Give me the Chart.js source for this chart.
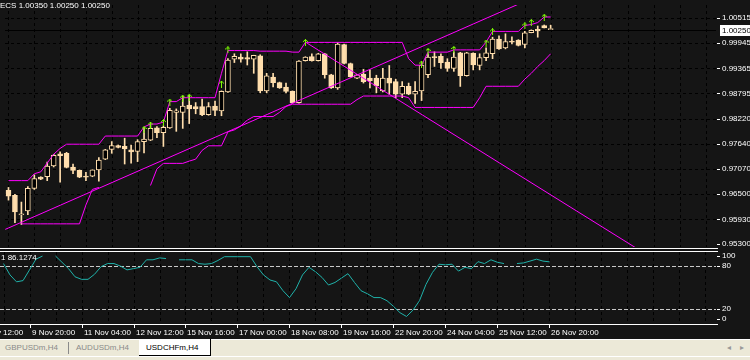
<!DOCTYPE html>
<html>
<head>
<meta charset="utf-8">
<title>USDCHFm,H4</title>
<script src="https://cdn.jsdelivr.net/npm/chart.js@4.4.1/dist/chart.umd.min.js"></script>
<style>
html,body{margin:0;padding:0;background:#151515;overflow:hidden;}
#wrap{position:relative;width:750px;height:360px;overflow:hidden;background:#151515;font-family:"Liberation Sans",Arial,sans-serif;}
.a{position:absolute;}
canvas{display:block;}
.txt{color:#fff;font-size:8px;line-height:8px;white-space:nowrap;}
.tab{font-size:8px;line-height:8px;white-space:nowrap;}
</style>
</head>
<body>
<div id="wrap">
  <canvas id="main" class="a" width="750" height="252" style="left:0;top:0"></canvas>
  <canvas id="osc" class="a" width="750" height="89" style="left:0;top:251px"></canvas>
  <div class="a" style="left:0;top:248px;width:718px;height:1px;background:#fff"></div>
  <div class="a" style="left:0;top:251px;width:718px;height:1px;background:#fff"></div>
  <div class="a" style="left:0;top:324px;width:718px;height:1px;background:#fff"></div>
  <div class="a txt" style="left:0;top:2px">ECS 1.00350 1.00250 1.00250</div>
  <div class="a txt" style="left:1px;top:254px">1 86.1274</div>
  <div class="a" style="left:0;top:339px;width:750px;height:21px;background:#ECE9D8;border-top:1px solid #fff;box-sizing:border-box"></div>
  <div class="a" style="left:0;top:356px;width:750px;height:1px;background:#fff"></div>
  <div class="a tab" style="left:5px;top:344px;color:#8a8a8a">GBPUSDm,H4</div>
  <div class="a" style="left:68px;top:342px;width:1px;height:12px;background:#8a8a8a"></div>
  <div class="a tab" style="left:76px;top:344px;color:#8a8a8a">AUDUSDm,H4</div>
  <div class="a" style="left:139px;top:339px;width:72px;height:17px;background:#fff;border-right:1px solid #000;border-bottom:1px solid #000;box-sizing:border-box"></div>
  <div class="a tab" style="left:146px;top:344px;color:#000">USDCHFm,H4</div>
  <div class="a tab" style="left:727px;top:344px;color:#999">&#9666;</div>
  <div class="a tab" style="left:740px;top:344px;color:#999">&#9656;</div>
</div>
<script>
// ---------------- data ----------------
const openPrices = [0.96589,0.96478,0.96034,0.96123,0.96634,0.96889,0.96900,0.97144,0.97422,0.97433,
0.97122,0.97044,0.96911,0.96911,0.97055,0.97300,0.97522,0.97611,0.97589,0.97511,
0.97478,0.97700,0.97733,0.98011,0.97900,0.98011,0.98366,0.98366,0.98532,0.98499,
0.98499,0.98310,0.98510,0.98399,0.98832,0.99576,0.99621,0.99610,0.99576,0.99654,
0.98854,0.99166,0.99043,0.98943,0.98843,0.98588,0.99543,0.99632,0.99543,0.99699,
0.99221,0.98921,0.99909,0.99477,0.99143,0.99232,0.99143,0.99143,0.98854,0.99143,
0.99065,0.98777,0.98955,0.98777,0.98854,0.99221,0.99632,0.99643,0.99510,0.99365,
0.99721,0.99199,0.99710,0.99432,0.99610,0.99699,1.00032,0.99832,0.99987,1.00009,
0.99909,1.00180,1.00254,1.00343,1.00250];
const highPrices = [0.96656,0.96500,0.96323,0.96678,0.96944,0.96900,0.97233,0.97411,0.97466,0.97455,
0.97189,0.97055,0.97000,0.97055,0.97333,0.97522,0.97700,0.97622,0.97777,0.97622,
0.97744,0.98000,0.98099,0.98044,0.98055,0.98455,0.98444,0.98733,0.98755,0.98588,
0.98666,0.98588,0.98621,0.98854,0.99587,0.99699,0.99699,0.99743,0.99665,0.99676,
0.99254,0.99254,0.99054,0.99032,0.98854,0.99543,0.99632,0.99699,0.99710,0.99710,
0.99232,0.99954,0.99921,0.99488,0.99232,0.99343,0.99332,0.99210,0.99365,0.99432,
0.99121,0.99065,0.99032,0.99065,0.99477,0.99699,0.99743,0.99699,0.99587,0.99743,
0.99732,0.99732,0.99721,0.99699,0.99832,1.00076,1.00109,1.00154,1.00087,1.00020,
1.00209,1.00243,1.00331,1.00354,1.00350];
const lowPrices = [0.96367,0.95856,0.95812,0.96034,0.96611,0.96833,0.96811,0.97122,0.96778,0.97100,
0.96967,0.96878,0.96811,0.96900,0.96800,0.97289,0.97433,0.97555,0.97189,0.97211,
0.97244,0.97444,0.97722,0.97789,0.97589,0.98000,0.97933,0.98000,0.98110,0.98333,
0.98288,0.98299,0.98288,0.98288,0.98821,0.99499,0.99510,0.99443,0.99254,0.98810,
0.98810,0.98943,0.98910,0.98810,0.98577,0.98577,0.99532,0.99532,0.99532,0.99143,
0.98910,0.98888,0.99465,0.99166,0.99132,0.99032,0.98921,0.98810,0.98832,0.98777,
0.98699,0.98699,0.98766,0.98566,0.98633,0.99154,0.99410,0.99365,0.99299,0.99299,
0.98955,0.99188,0.99332,0.99332,0.99543,0.99587,0.99798,0.99810,0.99921,0.99876,
0.99832,1.00176,1.00076,1.00287,1.00250];
const closePrices = [0.96456,0.96101,0.96056,0.96634,0.96856,0.96845,0.97144,0.97389,0.97378,0.97111,
0.97044,0.96889,0.96889,0.97055,0.97278,0.97511,0.97611,0.97566,0.97533,0.97466,
0.97700,0.97755,0.98000,0.97900,0.98022,0.98410,0.98399,0.98510,0.98444,0.98444,
0.98310,0.98499,0.98410,0.98843,0.99554,0.99643,0.99576,0.99576,0.99661,0.98854,
0.99199,0.99043,0.98921,0.98843,0.98588,0.99532,0.99621,0.99543,0.99699,0.99221,
0.98921,0.99921,0.99477,0.99177,0.99221,0.99065,0.99088,0.98966,0.99143,0.99032,
0.98777,0.98955,0.98777,0.98843,0.99443,0.99621,0.99610,0.99499,0.99365,0.99621,
0.99199,0.99721,0.99443,0.99610,0.99721,1.00032,0.99810,0.99976,0.99965,0.99887,
1.00176,1.00232,1.00220,1.00287,1.00250];
const upperChannel = [0.96811,0.96811,0.96811,0.96811,0.96967,0.97011,0.97211,0.97411,0.97544,0.97640,
0.97640,0.97640,0.97640,0.97640,0.97640,0.97826,0.97826,0.97826,0.97826,0.97826,
0.97826,0.98033,0.98099,0.98099,0.98144,0.98610,0.98610,0.98699,0.98699,0.98699,
0.98699,0.98699,0.98699,0.99254,0.99772,0.99772,0.99772,0.99772,0.99772,0.99758,
0.99758,0.99758,0.99758,0.99758,0.99736,0.99736,0.99958,0.99958,0.99958,0.99958,
0.99958,0.99958,0.99958,0.99958,0.99958,0.99958,0.99958,0.99958,0.99958,0.99958,
0.99958,0.99958,0.99587,0.99439,0.99439,0.99736,0.99736,0.99736,0.99736,0.99787,
0.99787,0.99787,0.99787,0.99787,0.99965,1.00209,1.00209,1.00209,1.00209,1.00209,
1.00343,1.00365,1.00409,1.00536,1.00536];
const lowerChannel = [null,null,0.95827,0.95827,0.95827,0.95827,0.95827,0.95827,0.95827,0.95827,
0.95827,0.95827,0.96256,0.96611,0.96656,null,null,null,null,null,
null,null,0.96700,0.97078,0.97204,0.97204,0.97204,0.97204,0.97255,0.97300,
0.97500,0.97604,0.97604,0.97604,0.97922,0.97966,0.98055,0.98188,0.98270,0.98270,
0.98270,0.98270,0.98366,0.98499,0.98550,0.98550,0.98550,0.98550,0.98550,0.98550,
0.98550,0.98550,0.98550,0.98550,0.98655,0.98737,0.98737,0.98737,0.98737,0.98737,
0.98737,0.98737,0.98699,0.98477,0.98477,0.98477,0.98477,0.98477,0.98477,0.98477,
0.98477,0.98477,0.98477,0.98699,0.98959,0.98959,0.98959,0.98959,0.98959,0.98959,
0.99121,0.99254,0.99410,0.99543,0.99699];
const trendUpBars = [-0.5, 84];
const trendUpPrices = [0.95701, 1.01150];
const trendDownBars = [46, 98];
const trendDownPrices = [0.99965, 0.95207];
const fractalBars = [21,22,24,25,27,28,33,34,46,64,65,69,74,75,80,81,83];
const fractalPrices = [0.97977,0.98077,0.98133,0.98599,0.98688,0.98710,0.99010,0.99787,0.99958,0.99465,0.99754,0.99798,0.99943,1.00198,1.00331,1.00409,1.00531];
const oscValues = [83.7,67.7,58.0,59.7,74.8,89.9,94.3,null,94.3,85.5,
76.6,65.1,61.5,61.5,68.6,79.3,83.7,83.7,80.1,74.8,
76.6,78.4,89.0,89.0,91.7,90.8,null,89.0,89.0,89.0,
83.7,82.8,83.7,88.1,93.4,93.4,93.4,93.4,93.4,79.3,
67.7,60.6,58.0,45.5,35.8,48.2,67.7,78.4,72.2,64.2,
53.5,57.1,63.3,69.5,57.1,45.5,41.1,35.8,35.8,31.4,
23.4,14.5,9.2,18.1,31.4,54.4,71.3,82.8,81.9,82.8,
73.1,78.4,76.6,86.4,83.7,89.0,85.5,83.7,null,83.7,
84.6,87.2,89.9,87.2,86.13];
const oscLevels = [80, 20];
const oscTickValues = [100, 80, 20, 0];
const oscTickLabels = ['100', '80', '20', '0'];
const priceTickLabels = ['1.00515','0.99945','0.99365','0.98795','0.98220','0.97640','0.97070','0.96500','0.95930','0.95300'];
const timeLabelBars = [-4,4,12,20,28,36,44,52,60,68,76,84];
const timeLabels = ['8 Nov 12:00','9 Nov 20:00','11 Nov 04:00','12 Nov 12:00','15 Nov 16:00','17 Nov 00:00','18 Nov 08:00','19 Nov 16:00','22 Nov 20:00','24 Nov 04:00','25 Nov 12:00','26 Nov 20:00'];

// ---------------- styles ----------------
const PEACH = '#FFDEAD';
const MAGENTA = '#FF00FF';
const FONT = '8px "Liberation Sans", Arial, sans-serif';
const X_MIN = -0.54, X_MAX = 109.62;
const GRID_STEP = 4;

// arrow marker
const arrow = document.createElement('canvas');
arrow.width = 5; arrow.height = 7;
(function(){
  const g = arrow.getContext('2d');
  g.fillStyle = '#7CFC00';
  const px = [[2,0],[1,1],[2,1],[3,1],[0,2],[2,2],[4,2],[2,3],[2,4],[2,5],[2,6]];
  px.forEach(p => g.fillRect(p[0], p[1], 1, 1));
})();

const idx = openPrices.map((_, i) => i);

// ---------------- plugins ----------------
function drawVGrid(chart) {
  const {ctx, chartArea: a, scales: {x}} = chart;
  ctx.beginPath();
  for (let i = 0; i <= X_MAX; i += GRID_STEP) {
    const px = Math.round(x.getPixelForValue(i)) + 0.5;
    ctx.moveTo(px, a.top); ctx.lineTo(px, a.bottom);
  }
  ctx.stroke();
}

const mainDeco = {
  id: 'mainDeco',
  beforeDatasetsDraw(chart) {
    const {ctx, chartArea: a, scales: {y}} = chart;
    ctx.save();
    ctx.strokeStyle = '#000'; ctx.lineWidth = 1; ctx.setLineDash([3, 3]);
    drawVGrid(chart);
    ctx.beginPath();
    priceTickLabels.forEach(t => {
      const py = Math.round(y.getPixelForValue(parseFloat(t))) + 0.5;
      if (py < a.bottom - 2) { ctx.moveTo(a.left, py); ctx.lineTo(a.right, py); }
    });
    ctx.stroke();
    // bid line
    ctx.setLineDash([]);
    const last = closePrices[closePrices.length - 1];
    const by = Math.round(y.getPixelForValue(last)) + 0.5;
    ctx.strokeStyle = '#000';
    ctx.beginPath(); ctx.moveTo(a.left, by); ctx.lineTo(a.right, by); ctx.stroke();
    ctx.restore();
  },
  afterDraw(chart) {
    const {ctx, chartArea: a, scales: {y}} = chart;
    ctx.save();
    ctx.font = FONT; ctx.textBaseline = 'middle'; ctx.fillStyle = '#fff';
    priceTickLabels.forEach(t => {
      let py = y.getPixelForValue(parseFloat(t));
      py = Math.min(Math.max(py, a.top + 4), a.bottom - 3);
      ctx.fillRect(a.right + 1, Math.round(py), 3, 1);
      ctx.fillText(t, a.right + 6, py);
    });
    const last = closePrices[closePrices.length - 1];
    const by = Math.round(y.getPixelForValue(last));
    ctx.fillStyle = '#fff';
    ctx.fillRect(a.right + 4, by - 5, 750 - a.right - 4, 11);
    ctx.fillStyle = '#000';
    ctx.fillText(last.toFixed(5), a.right + 6, by + 0.5);
    ctx.restore();
  }
};

const oscDeco = {
  id: 'oscDeco',
  beforeDatasetsDraw(chart) {
    const {ctx, chartArea: a, scales: {y}} = chart;
    ctx.save();
    ctx.strokeStyle = '#000'; ctx.lineWidth = 1; ctx.setLineDash([3, 3]);
    drawVGrid(chart);
    ctx.strokeStyle = '#c8c8c8'; ctx.setLineDash([4, 2]);
    ctx.beginPath();
    oscLevels.forEach(v => {
      const py = Math.round(y.getPixelForValue(v)) + 0.5;
      ctx.moveTo(a.left, py); ctx.lineTo(a.right, py);
    });
    ctx.stroke();
    ctx.restore();
  },
  afterDraw(chart) {
    const {ctx, chartArea: a, scales: {x, y}} = chart;
    ctx.save();
    ctx.font = FONT; ctx.textBaseline = 'middle'; ctx.fillStyle = '#fff';
    oscTickValues.forEach((v, k) => {
      let py = y.getPixelForValue(v);
      py = Math.min(Math.max(py, a.top + 4), a.bottom - 5);
      ctx.fillRect(a.right + 1, Math.round(py), 3, 1);
      ctx.fillText(oscTickLabels[k], a.right + 6, py);
    });
    ctx.textAlign = 'left';
    timeLabelBars.forEach((b, k) => {
      const px = Math.round(x.getPixelForValue(b));
      ctx.fillRect(px, a.bottom + 1, 1, 3);
      ctx.fillText(timeLabels[k], px + 2, a.bottom + 9);
    });
    ctx.restore();
  }
};

// ---------------- main chart ----------------
const lineDs = (label, data, xs) => ({
  type: 'line', label,
  data: xs ? xs.map((b, k) => ({x: b, y: data[k]})) : data.map((v, i) => ({x: i, y: v})),
  borderColor: MAGENTA, borderWidth: 1, pointRadius: 0, spanGaps: false, tension: 0, order: 1
});

new Chart(document.getElementById('main'), {
  type: 'bar',
  data: {
    datasets: [
      {
        type: 'line', label: 'Fractals',
        data: fractalBars.map((b, k) => ({x: b, y: fractalPrices[k]})),
        showLine: false, pointStyle: arrow, pointRadius: 3, order: 0
      },
      lineDs('Upper channel', upperChannel),
      lineDs('Lower channel', lowerChannel),
      lineDs('Trend up', trendUpPrices, trendUpBars),
      lineDs('Trend down', trendDownPrices, trendDownBars),
      {
        label: 'Body',
        data: idx.map(i => ({x: i, y: [openPrices[i], closePrices[i]]})),
        backgroundColor: idx.map(i => closePrices[i] >= openPrices[i] ? '#000000' : PEACH),
        borderColor: PEACH, borderWidth: 1, borderSkipped: false,
        barThickness: 5, grouped: false, minBarLength: 1, order: 2
      },
      {
        label: 'Wick',
        data: idx.map(i => ({x: i, y: [lowPrices[i], highPrices[i]]})),
        backgroundColor: PEACH, borderWidth: 0,
        barThickness: 1, grouped: false, order: 3
      }
    ]
  },
  options: {
    responsive: false, animation: false, devicePixelRatio: 1, events: [],
    layout: {padding: {left: 0, top: 0, right: 34, bottom: 4}},
    plugins: {legend: {display: false}, tooltip: {enabled: false}},
    scales: {
      x: {type: 'linear', display: false, min: X_MIN, max: X_MAX, offset: false},
      y: {type: 'linear', display: false, min: 0.95300, max: 1.00809}
    }
  },
  plugins: [mainDeco]
});

// ---------------- oscillator ----------------
new Chart(document.getElementById('osc'), {
  type: 'line',
  data: {
    datasets: [{
      label: 'Oscillator',
      data: oscValues.map((v, i) => ({x: i, y: v})),
      borderColor: '#20B2AA', borderWidth: 1, pointRadius: 0, spanGaps: false, tension: 0
    }]
  },
  options: {
    responsive: false, animation: false, devicePixelRatio: 1, events: [],
    layout: {padding: {left: 0, top: 1, right: 34, bottom: 16}},
    plugins: {legend: {display: false}, tooltip: {enabled: false}},
    scales: {
      x: {type: 'linear', display: false, min: X_MIN, max: X_MAX},
      y: {type: 'linear', display: false, min: -1.4, max: 100}
    }
  },
  plugins: [oscDeco]
});
</script>
</body>
</html>
